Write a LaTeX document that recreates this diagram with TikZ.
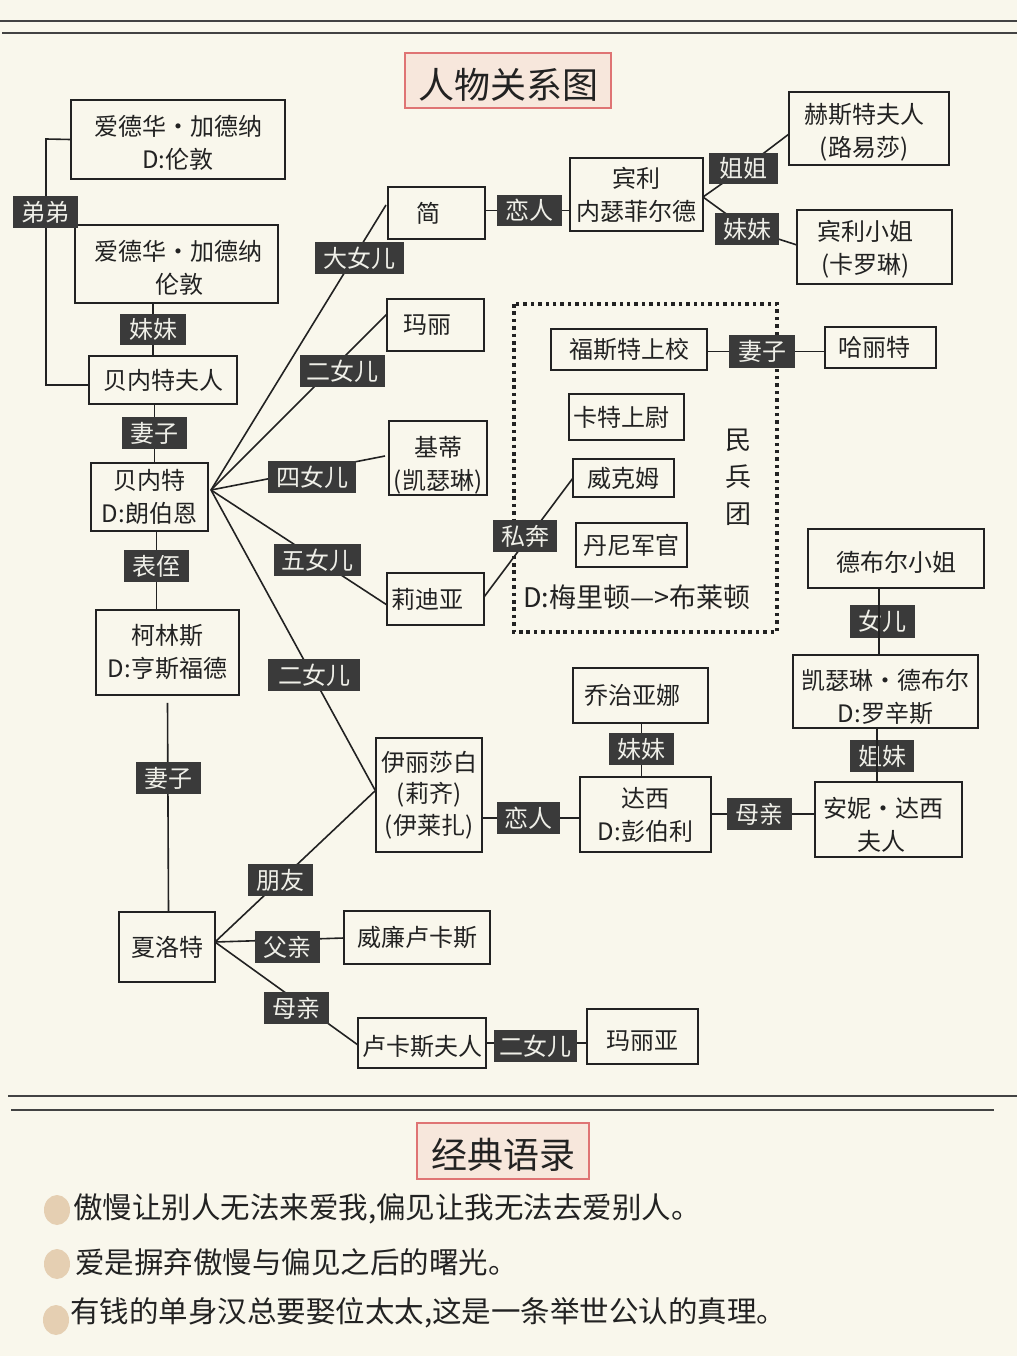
\documentclass[tikz,border=0pt]{standalone}
\usepackage{fontspec}
\setmainfont{Noto Sans CJK SC}
\usetikzlibrary{backgrounds,calc,shapes.geometric}
\definecolor{pagebg}{HTML}{F9F7EC}
\definecolor{ink}{HTML}{222222}
\definecolor{tagdark}{HTML}{3A3A3A}
\definecolor{tagtext}{HTML}{EFEFE8}
\definecolor{titlefill}{HTML}{F7E7DC}
\definecolor{titleline}{HTML}{DF7474}
\definecolor{dotfill}{HTML}{E5CFB2}
\tikzset{
  fsz/.style={font=\fontsize{#1}{33}\selectfont},
  pbox/.style={draw=ink,line width=1.6pt,inner sep=0pt,align=center,text=ink,fsz=24},
  tag/.style={fill=tagdark,inner sep=0pt,text=tagtext,fsz=24,align=center},
  titlebox/.style={draw=titleline,fill=titlefill,line width=1.6pt,inner sep=0pt,text=ink,fsz=36},
  link/.style={draw=ink,line width=1.6pt},
  rule/.style={draw=ink!85,line width=2pt},
  quote/.style={anchor=west,inner sep=0pt,text=ink,fsz=29.5},
  plain/.style={inner sep=0pt,align=center,text=ink,fsz=24},
  pdot/.style={fill=dotfill,draw=none,ellipse,minimum width=26pt,minimum height=30pt}
}
% box from left, top, right, bottom pixels
\newcommand\rectnode[7][]{\node[#2,#1,minimum width={(#6-#4)*1pt},minimum height={(#7-#5)*1pt}] (#3) at ({(#4+#6)/2},{(#5+#7)/2})}
\newcommand\pb[7][]{\rectnode[#1]{pbox}{#2}{#3}{#4}{#5}{#6} {#7};}
\newcommand\tg[7][]{\rectnode[#1]{tag}{#2}{#3}{#4}{#5}{#6} {#7};}
% shift a line sideways inside its box
\newcommand\shx[2]{\makebox[0pt]{\hspace*{\dimexpr#1pt*2\relax}#2}}
% move a box's text down
\newcommand\dn[1]{\rule{0pt}{\dimexpr21pt+#1pt*2\relax}}
\begin{document}
\begin{tikzpicture}[x=1pt,y=-1pt]
\useasboundingbox (0,0) rectangle (1017,1356);
\begin{pgfonlayer}{background}
\fill[pagebg] (0,0) rectangle (1017,1356);
\end{pgfonlayer}

% rules
\coordinate (r1a) at (0,21); \coordinate (r1b) at (1017,21);
\coordinate (r2a) at (2,33); \coordinate (r2b) at (1017,33);
\coordinate (r3a) at (8,1096); \coordinate (r3b) at (1017,1096);
\coordinate (r4a) at (11,1110); \coordinate (r4b) at (994,1110);
\draw[rule] (r1a) -- (r1b);
\draw[rule] (r2a) -- (r2b);
\draw[rule] (r3a) -- (r3b);
\draw[rule] (r4a) -- (r4b);

% titles
\rectnode{titlebox}{title}{405}{53}{611}{108} {\rule{0pt}{38pt}人物关系图};
\rectnode{titlebox}{quotes}{417}{1123}{589}{1179} {\rule{0pt}{38pt}经典语录};

% militia frame
\coordinate (mla) at (514,304); \coordinate (mlb) at (777,632);
\draw[ink,line width=3.5pt,dash pattern=on 3.5pt off 3.9pt] (mla) rectangle (mlb);
\node[plain,fsz=26] (militia) at (738,477) {民\\[4pt]兵\\[4pt]团};
\node[plain,fsz=27] (meryton) at (637,597) {D:梅里顿—>布莱顿};

% people, left column
\pb{gar1}{71}{100}{285}{179}{\dn{3}爱德华•加德纳\\D:伦敦}
\pb{gar2}{75}{225}{278}{303}{\dn{3}\shx{2}{爱德华•加德纳}\\\shx{3}{伦敦}}
\pb{mrsb}{89}{356}{237}{404}{贝内特夫人}
\pb{mrb}{91}{463}{208}{531}{贝内特\\D:朗伯恩}
\pb{collins}{96}{610}{239}{695}{柯林斯\\D:亨斯福德}
\pb{charlotte}{119}{912}{215}{982}{夏洛特}

% daughters
\pb{jane}{388}{187}{485}{239}{\shx{-8}{简}}
\pb{mary}{387}{299}{484}{351}{\shx{-8}{玛丽}}
\pb{kitty}{389}{421}{487}{495}{\dn{7}基蒂\\(凯瑟琳)}
\pb{lydia}{387}{573}{484}{625}{\shx{-8}{莉迪亚}}
\pb[font=\fontsize{24}{31.5}\selectfont]{lizzy}{376}{738}{482}{852}{伊丽莎白\\(莉齐)\\(伊莱扎)}

% bingley group
\pb{bingley}{570}{158}{703}{231}{宾利\\内瑟菲尔德}
\pb{hurst}{789}{92}{949}{165}{\dn{3}\shx{-5}{赫斯特夫人}\\\shx{-5}{(路易莎)}}
\pb{missb}{797}{210}{952}{284}{\dn{2}\shx{-9}{宾利小姐}\\\shx{-9}{(卡罗琳)}}

% militia members
\pb{forster}{551}{329}{707}{370}{福斯特上校}
\pb{harriet}{825}{327}{936}{368}{\shx{-6}{哈丽特}}
\pb{carter}{569}{394}{684}{440}{\shx{-5}{卡特上尉}}
\pb{wick}{573}{459}{674}{497}{威克姆}
\pb{denny}{576}{523}{687}{567}{丹尼军官}

% darcy group
\pb{debm}{808}{529}{984}{588}{\dn{3}德布尔小姐}
\pb{debc}{793}{655}{978}{728}{\dn{5}凯瑟琳•德布尔\\D:罗辛斯}
\pb{anne}{815}{782}{962}{857}{\dn{5}\shx{-5}{安妮•达西}\\\shx{-7}{夫人}}
\pb{georg}{573}{668}{708}{723}{\shx{-8}{乔治亚娜}}
\pb{darcy}{580}{777}{711}{852}{达西\\D:彭伯利}

% lucas group
\pb{wlucas}{344}{911}{490}{964}{威廉卢卡斯}
\pb{mlucas}{358}{1018}{486}{1068}{\dn{3}卢卡斯夫人}
\pb{maria}{587}{1009}{698}{1064}{\dn{3}玛丽亚}

% tags
\tg{tbro}{13}{196}{78}{228}{弟弟}
\tg{tsis}{120}{314}{186}{345}{妹妹}
\tg{twife}{122}{417}{187}{449}{妻子}
\tg{tneph}{124}{550}{189}{582}{表侄}
\tg{twife2}{136}{762}{201}{794}{妻子}
\tg{td1}{315}{242}{404}{274}{大女儿}
\tg{td2}{300}{355}{385}{387}{二女儿}
\tg{td4}{268}{461}{356}{493}{四女儿}
\tg{td5}{274}{544}{361}{576}{五女儿}
\tg{td2b}{268}{659}{360}{691}{二女儿}
\tg{telope}{493}{520}{557}{552}{私奔}
\tg{tlove}{497}{195}{562}{226}{恋人}
\tg{tolder}{709}{153}{778}{184}{姐姐}
\tg{tyoung}{715}{213}{779}{245}{妹妹}
\tg{twife3}{729}{335}{795}{368}{妻子}
\tg{tdau}{850}{605}{915}{638}{女儿}
\tg{tsis2}{609}{733}{674}{765}{妹妹}
\tg{tsis3}{850}{740}{914}{772}{姐妹}
\tg{tlove2}{497}{802}{560}{834}{恋人}
\tg{tmom}{727}{798}{792}{830}{母亲}
\tg{tfri}{248}{864}{313}{896}{朋友}
\tg{tdad}{255}{931}{320}{963}{父亲}
\tg{tmom2}{264}{992}{329}{1024}{母亲}
\tg{td2c}{494}{1030}{577}{1062}{二女儿}

% connector ends
\coordinate (hub) at (211,490);
\coordinate (cjane) at (386,205);
\coordinate (cmary) at (387,314);
\coordinate (ckitty) at (385,456);
\coordinate (clydia) at (387,605);
\coordinate (clizzy) at (375,790);
\coordinate (hub2) at (215,942);
\coordinate (clizzyb) at (376,790);
\coordinate (cwl) at (344,938);
\coordinate (cml) at (358,1045);
\coordinate (bk1) at (46,139);
\coordinate (bk2) at (46,385);
\coordinate (bhub) at (703,197);
\coordinate (chu) at (789,134);
\coordinate (cmb) at (797,245);
\coordinate (cly) at (484,597);
\coordinate (cwi) at (573,478);

\begin{pgfonlayer}{background}
\draw[link] (gar1.west) -- (bk1) -- (bk2) -- (mrsb.west |- bk2);
\draw[link] (tsis.center |- gar2.south) -- (tsis.center |- mrsb.north);
\draw[link] (twife.center |- mrsb.south) -- (twife.center |- mrb.north);
\draw[link] (tneph.center |- mrb.south) -- (tneph.center |- collins.north);
\draw[link] (twife2.center |- collins.south) ++(-1,7) -- (twife2.center |- charlotte.north);
\draw[link] (hub) -- (cjane);
\draw[link] (hub) -- (cmary);
\draw[link] (hub) -- (ckitty);
\draw[link] (hub) -- (clydia);
\draw[link] (hub) -- (clizzy);
\draw[link] (hub2) -- (clizzyb);
\draw[link] (hub2) -- (cwl);
\draw[link] (hub2) -- (cml);
\draw[link] (jane.east |- tlove.center) -- (bingley.west |- tlove.center);
\draw[link] (bhub) -- (tolder.center) -- (chu);
\draw[link] (bhub) -- (tyoung.center) -- (cmb);
\draw[link] (cly) -- (cwi);
\draw[link] (forster.east |- twife3.center) -- (harriet.west |- twife3.center);
\draw[link] (georg.south -| tsis2.center) -- (darcy.north -| tsis2.center);
\draw[link] (lizzy.east |- tlove2.center) -- (darcy.west |- tlove2.center);
\draw[link] (darcy.east |- tmom.center) -- (anne.west |- tmom.center);
\draw[link] (mlucas.east) -- (maria.west |- mlucas.east);
\end{pgfonlayer}
% these two lines run over their tags
\coordinate (xdau) at (879,600);
\coordinate (xsis) at (877,750);
\draw[link] (xdau |- debm.south) -- (xdau |- debc.north);
\draw[link] (xsis |- debc.south) -- (xsis |- anne.north);

% quotes
\node[pdot] (d1) at (57,1210) {};
\node[pdot] (d2) at (57,1264) {};
\node[pdot] (d3) at (56,1320) {};
\node[quote] (q1) at (73,1209) {傲慢让别人无法来爱我,偏见让我无法去爱别人。};
\node[quote] (q2) at (75,1262) {爱是摒弃傲慢与偏见之后的曙光。};
\node[quote] (q3) at (70,1313) {有钱的单身汉总要娶位太太,这是一条举世公认的真理。};
\end{tikzpicture}
\end{document}
